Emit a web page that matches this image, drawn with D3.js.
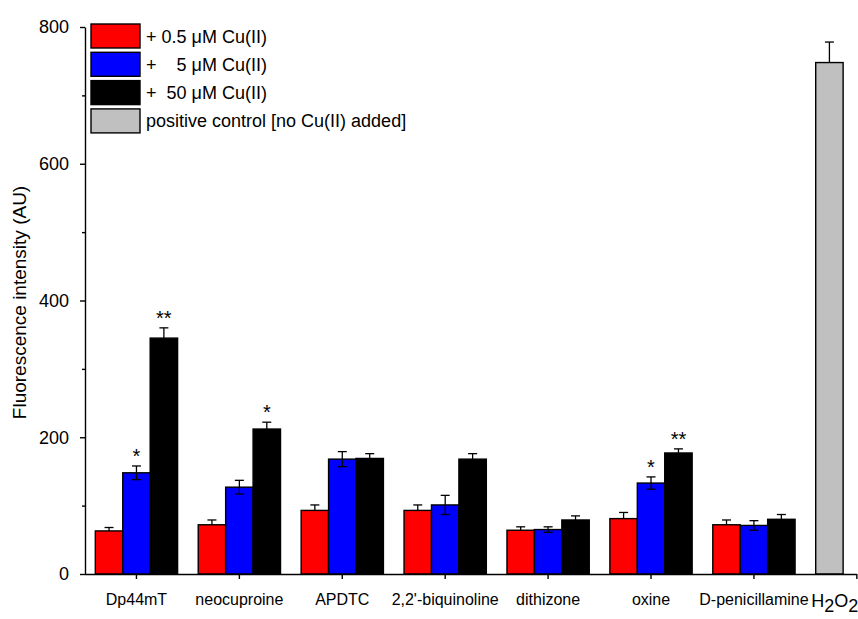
<!DOCTYPE html>
<html>
<head>
<meta charset="utf-8">
<script src="https://cdn.jsdelivr.net/npm/d3@7"></script>
<style>
  html, body { margin: 0; padding: 0; background: #fff; }
  svg { display: block; font-family: "Liberation Sans", Arial, sans-serif; }
  .legend text { white-space: pre; }
</style>
</head>
<body>
<svg id="chart" width="858" height="619"></svg>
<script>
// Chelators tested, one group of bars each
const groups = ["Dp44mT", "neocuproine", "APDTC", "2,2'-biquinoline", "dithizone", "oxine", "D-penicillamine"];
const controlLabel = "H2O2";

// Mean fluorescence and error for each Cu(II) concentration
const cu05 = [63, 72, 93, 93, 64, 81, 72];
const cu05Err = [5, 7, 8, 8, 5, 9, 7];
const cu5 = [148, 127, 168, 101, 65, 133, 71];
const cu5Err = [10, 10, 11, 14, 4, 9, 7];
const cu50 = [345, 212, 169, 168, 79, 177, 80];
const cu50Err = [15, 10, 7, 8, 6, 6, 7];

// Positive control (H2O2, no Cu(II) added)
const controlValue = [748];
const controlErr = [30];

// Significance marks
const cu5Sig = ["*", "", "", "", "", "*", ""];
const cu50Sig = ["**", "*", "", "", "", "**", ""];

// Axis ticks
const yMajorTicks = [0, 200, 400, 600, 800];
const yMinorTicks = [100, 300, 500, 700];

const legendLabels = ["+ 0.5 \u03BCM Cu(II)", "+    5 \u03BCM Cu(II)", "+  50 \u03BCM Cu(II)", "positive control [no Cu(II) added]"];
const colors = ["#ff0000", "#0000ff", "#000000", "#c0c0c0"];

const svg = d3.select("#chart");

const axisLeftX = 85;
const y = d3.scaleLinear().domain([0, 800]).range([574, 27]);
const x = d3.scaleBand().domain([...groups, controlLabel]).range([axisLeftX, 908.3]).padding(0);
const bw = x.bandwidth() * 0.2665;
const center = d => x(d) + x.bandwidth() / 2;

const series = [
  { vals: cu05, errs: cu05Err, color: colors[0], off: -1, lower: false, sig: null },
  { vals: cu5, errs: cu5Err, color: colors[1], off: 0, lower: true, sig: cu5Sig },
  { vals: cu50, errs: cu50Err, color: colors[2], off: 1, lower: false, sig: cu50Sig }
];

const plot = svg.append("g");

// Bars, error bars and significance marks for each concentration
series.forEach(s => {
  const rows = groups.map((g, i) => ({ g, v: s.vals[i], e: s.errs[i], sig: s.sig ? s.sig[i] : "" }));
  const gg = plot.append("g");
  gg.selectAll("rect").data(rows).join("rect")
    .attr("x", d => center(d.g) + s.off * bw - bw / 2)
    .attr("y", d => y(d.v))
    .attr("width", bw)
    .attr("height", d => y(0) - y(d.v))
    .attr("fill", s.color)
    .attr("stroke", "#000")
    .attr("stroke-width", 1.4);
  const eg = gg.selectAll("g.err").data(rows).join("g").attr("class", "err")
    .attr("transform", d => `translate(${center(d.g) + s.off * bw},0)`);
  eg.append("line")
    .attr("x1", 0).attr("x2", 0)
    .attr("y1", d => y(d.v + d.e))
    .attr("y2", d => s.lower ? y(d.v - d.e) : y(d.v))
    .attr("stroke", "#000").attr("stroke-width", 1.3);
  eg.append("line")
    .attr("x1", -4.5).attr("x2", 4.5)
    .attr("y1", d => y(d.v + d.e)).attr("y2", d => y(d.v + d.e))
    .attr("stroke", "#000").attr("stroke-width", 1.3);
  if (s.lower) {
    eg.append("line")
      .attr("x1", -4.5).attr("x2", 4.5)
      .attr("y1", d => y(d.v - d.e)).attr("y2", d => y(d.v - d.e))
      .attr("stroke", "#000").attr("stroke-width", 1.3);
  }
  gg.selectAll("text.sig").data(rows.filter(d => d.sig)).join("text")
    .attr("class", "sig")
    .attr("x", d => center(d.g) + s.off * bw)
    .attr("y", d => y(d.v + d.e) - 3)
    .attr("text-anchor", "middle")
    .attr("font-size", 20)
    .text(d => d.sig);
});

// Positive control bar
const cx = center(controlLabel) - bw;
plot.append("g").selectAll("rect").data(controlValue).join("rect")
  .attr("x", cx - bw / 2)
  .attr("y", d => y(d))
  .attr("width", bw)
  .attr("height", d => y(0) - y(d))
  .attr("fill", colors[3])
  .attr("stroke", "#000")
  .attr("stroke-width", 1.4);
const ctrlErr = plot.append("g").selectAll("g").data(controlValue.map((v, i) => ({ v, e: controlErr[i] }))).join("g");
ctrlErr.append("line").attr("x1", cx).attr("x2", cx)
  .attr("y1", d => y(d.v + d.e)).attr("y2", d => y(d.v))
  .attr("stroke", "#000").attr("stroke-width", 1.3);
ctrlErr.append("line").attr("x1", cx - 4.5).attr("x2", cx + 4.5)
  .attr("y1", d => y(d.v + d.e)).attr("y2", d => y(d.v + d.e))
  .attr("stroke", "#000").attr("stroke-width", 1.3);

// Y axis
const yAxis = svg.append("g").attr("transform", `translate(${axisLeftX},0)`)
  .call(d3.axisLeft(y).tickValues(yMajorTicks).tickSize(5).tickPadding(11).tickSizeOuter(0));
yAxis.select(".domain").attr("stroke-width", 1.4);
yAxis.selectAll(".tick line").attr("stroke-width", 1.4);
yAxis.selectAll(".tick text").attr("font-size", 18).attr("font-family", "Liberation Sans, Arial, sans-serif").attr("fill", "#000");
svg.append("g").attr("transform", `translate(${axisLeftX},0)`)
  .call(d3.axisLeft(y).tickValues(yMinorTicks).tickSize(3).tickFormat("").tickSizeOuter(0))
  .call(g => g.select(".domain").remove())
  .selectAll(".tick line").attr("stroke-width", 1.4);

// X axis
const xAxis = svg.append("g").attr("transform", `translate(0,${y(0)})`)
  .call(d3.axisBottom(x).tickSize(5).tickSizeOuter(0).tickPadding(15));
xAxis.select(".domain").attr("d", `M${axisLeftX},0.5H${center(controlLabel)}`).attr("stroke-width", 1.4);
xAxis.selectAll(".tick line").attr("stroke-width", 1.4);
xAxis.selectAll(".tick text").attr("font-size", 16).attr("font-family", "Liberation Sans, Arial, sans-serif").attr("fill", "#000");
// H2O2 label with subscripts
const h2o2 = xAxis.selectAll(".tick").filter(d => d === controlLabel).select("text");
h2o2.text(null).attr("text-anchor", "end").attr("x", 1.5).attr("font-size", 18);
h2o2.append("tspan").text("H");
h2o2.append("tspan").text("2").attr("dy", 5);
h2o2.append("tspan").text("O").attr("dy", -5);
h2o2.append("tspan").text("2").attr("dy", 5);

// Y axis title
svg.append("text")
  .attr("transform", `translate(26,${y(400) + 2}) rotate(-90)`)
  .attr("text-anchor", "middle")
  .attr("font-size", 19)
  .text("Fluorescence intensity (AU)");

// Legend
const legend = svg.append("g").attr("class", "legend").attr("transform", "translate(91,24)");
const rowsL = legend.selectAll("g").data(legendLabels).join("g")
  .attr("transform", (d, i) => `translate(0,${i * 28.3})`);
rowsL.append("rect").attr("width", 49).attr("height", 24)
  .attr("fill", (d, i) => colors[i]).attr("stroke", "#000").attr("stroke-width", 1.4);
rowsL.append("text").attr("x", 55).attr("y", 18.5).attr("font-size", 18).text(d => d);
</script>
</body>
</html>
